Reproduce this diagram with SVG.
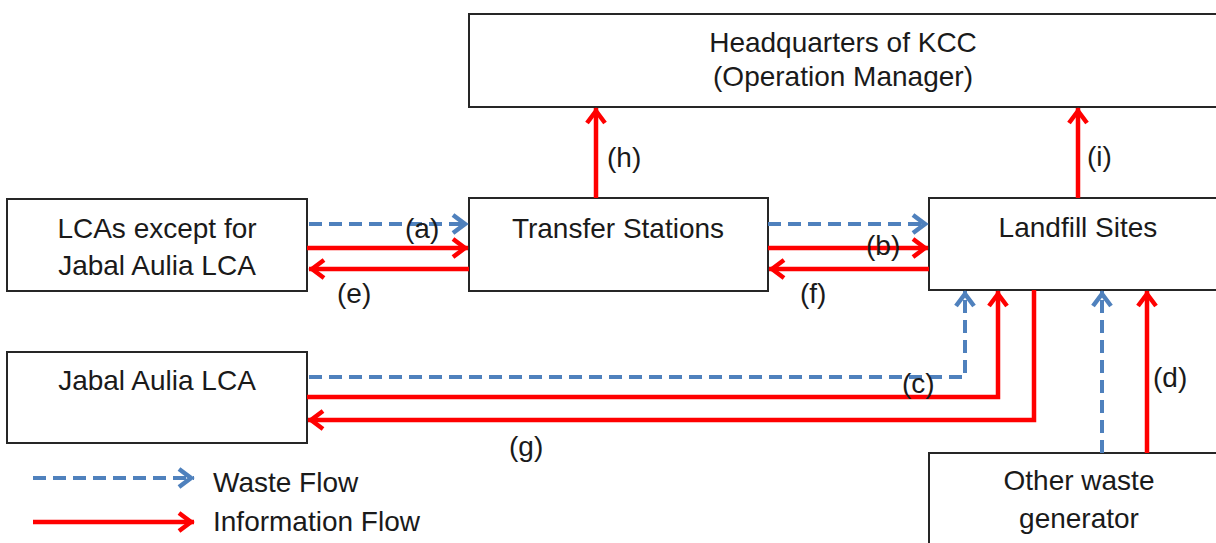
<svg xmlns="http://www.w3.org/2000/svg" width="1216" height="543" viewBox="0 0 1216 543">
<style>
.box{fill:#fff;stroke:#262626;stroke-width:2}
.t{font-family:"Liberation Sans",Arial,sans-serif;font-size:28px;fill:#1a1a1a}
.c{text-anchor:middle}
.w{fill:none;stroke:#4F81BD;stroke-width:4;stroke-dasharray:13 7;marker-end:url(#mb)}
.i{fill:none;stroke:#FF0000;stroke-width:4.5;marker-end:url(#mr)}
</style>
<defs>
<marker id="mb" markerUnits="userSpaceOnUse" viewBox="-20 -14 24 28" markerWidth="24" markerHeight="28" refX="0" refY="0" orient="auto">
<path d="M-15,-9 L-3,0 L-15,9" fill="none" stroke="#4F81BD" stroke-width="4.5"/>
</marker>
<marker id="mr" markerUnits="userSpaceOnUse" viewBox="-20 -14 24 28" markerWidth="24" markerHeight="28" refX="0" refY="0" orient="auto">
<path d="M-15,-9 L-3,0 L-15,9" fill="none" stroke="#FF0000" stroke-width="4.5"/>
</marker>
</defs>
<rect width="1216" height="543" fill="#fff"/>
<g id="hq">
<rect class="box" x="469" y="14" width="760" height="93"/>
<text class="t c" x="843" y="52">Headquarters of KCC</text>
<text class="t c" x="843" y="86">(Operation Manager)</text>
</g>
<g id="lcas">
<rect class="box" x="7" y="199" width="300" height="92"/>
<text class="t c" x="157" y="238">LCAs except for</text>
<text class="t c" x="157" y="275">Jabal Aulia LCA</text>
</g>
<g id="transfer">
<rect class="box" x="469" y="198" width="299" height="93"/>
<text class="t c" x="618" y="238">Transfer Stations</text>
</g>
<g id="landfill">
<rect class="box" x="929" y="198" width="300" height="92"/>
<text class="t c" x="1078" y="237">Landfill Sites</text>
</g>
<g id="jabal">
<rect class="box" x="7" y="352" width="300" height="91"/>
<text class="t c" x="157" y="390">Jabal Aulia LCA</text>
</g>
<g id="other">
<rect class="box" x="929" y="453" width="300" height="100"/>
<text class="t c" x="1079" y="490">Other waste</text>
<text class="t c" x="1079" y="528">generator</text>
</g>
<g id="connectors">
<path class="w" d="M309,224 H468"/>
<path class="i" d="M307,248 H468"/>
<path class="i" d="M469,269 H309"/>
<path class="w" d="M768,224 H928"/>
<path class="i" d="M768,248 H928"/>
<path class="i" d="M929,269 H769"/>
<path class="i" d="M596,198 V108"/>
<path class="i" d="M1078,198 V108"/>
<path class="w" d="M309,377 H965 V291"/>
<path class="i" d="M307,397 H998 V291"/>
<path class="i" d="M1034,290 V420 H308"/>
<path class="w" d="M1102,453 V291"/>
<path class="i" d="M1147,453 V291"/>
<text class="t" x="405" y="238">(a)</text>
<text class="t" x="337" y="303">(e)</text>
<text class="t" x="866" y="255">(b)</text>
<text class="t" x="800" y="303">(f)</text>
<text class="t" x="607" y="167">(h)</text>
<text class="t" x="1087" y="166">(i)</text>
<text class="t" x="902" y="393">(c)</text>
<text class="t" x="1153" y="387">(d)</text>
<text class="t" x="509" y="456">(g)</text>
</g>
<g id="legend">
<path class="w" d="M33,478 H194"/>
<path class="i" d="M33,522 H194"/>
<text class="t" x="213" y="492">Waste Flow</text>
<text class="t" x="213" y="531">Information Flow</text>
</g>
</svg>
